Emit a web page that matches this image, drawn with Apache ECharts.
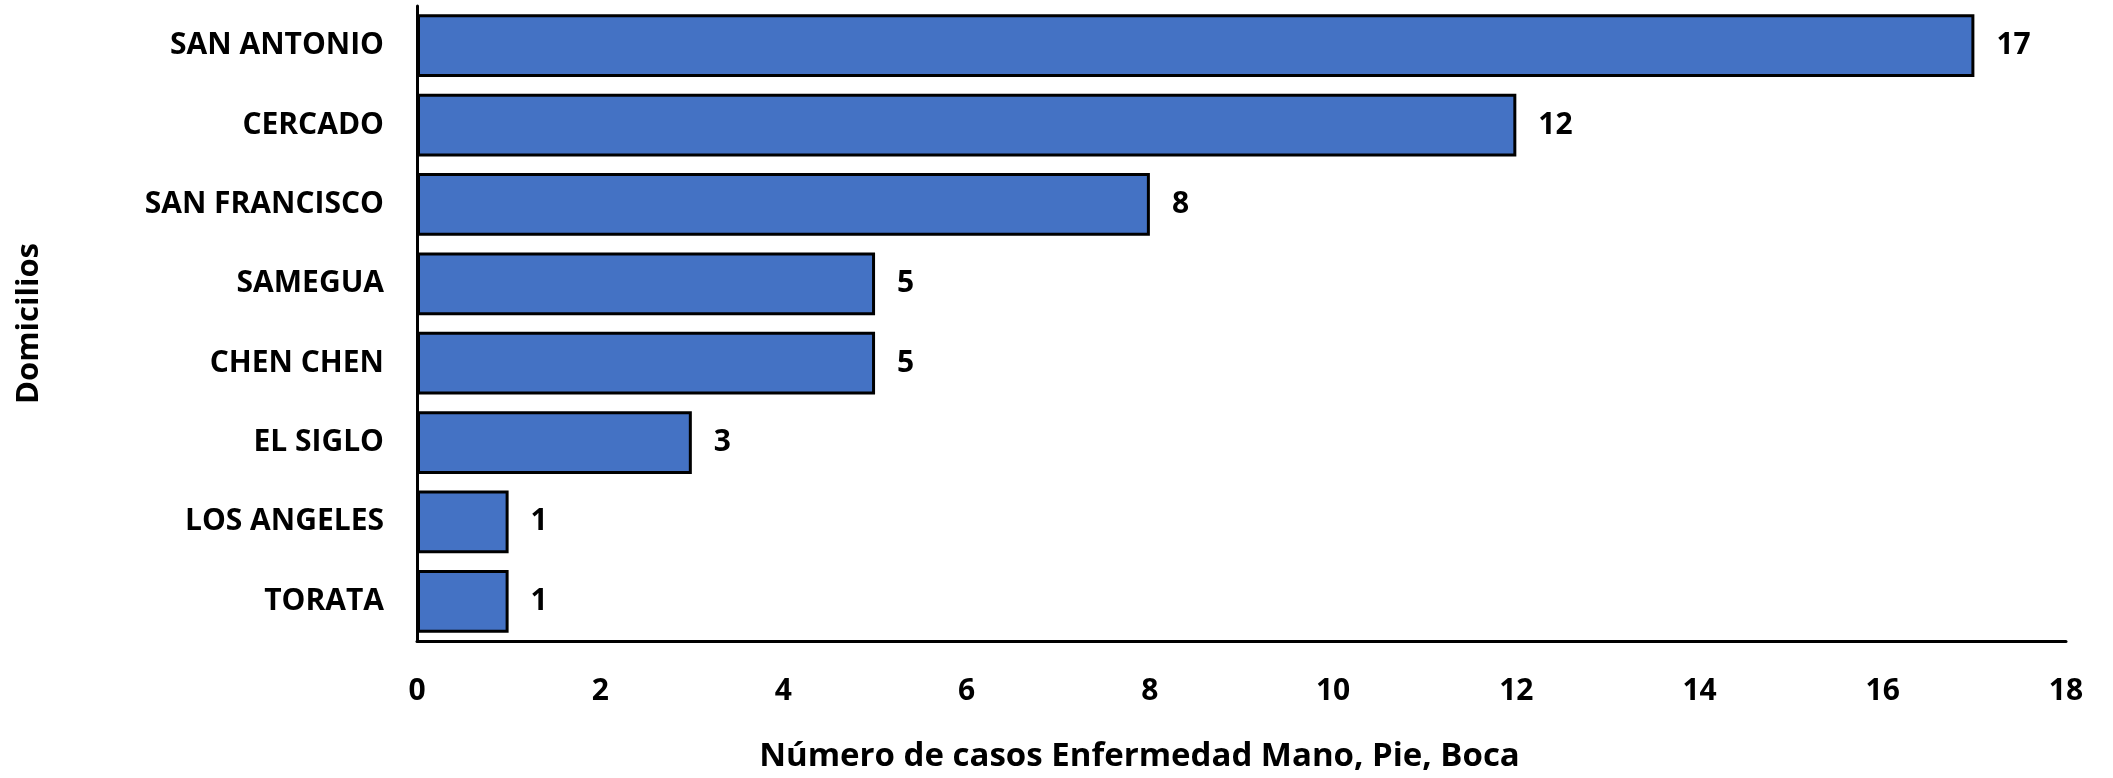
<!DOCTYPE html>
<html>
<head>
<meta charset="utf-8">
<script src="https://cdn.jsdelivr.net/npm/echarts@6/dist/echarts.min.js"></script>
<style>html,body{margin:0;padding:0;background:#fff}#c{width:2113px;height:778px}</style>
</head>
<body>
<div id="c"></div>
<script>
const categories = ['SAN ANTONIO','CERCADO','SAN FRANCISCO','SAMEGUA','CHEN CHEN','EL SIGLO','LOS ANGELES','TORATA'];
const values = [17, 12, 8, 5, 5, 3, 1, 1];
const xTicks = [0, 2, 4, 6, 8, 10, 12, 14, 16, 18];
const xTitle = 'Número de casos Enfermedad Mano, Pie, Boca';
const yTitle = 'Domicilios';

const font = 'Open Sans';
const chart = echarts.init(document.getElementById('c'));
chart.setOption({
  animation: false,
  backgroundColor: '#fff',
  grid: { left: 417, right: 47, top: 6, bottom: 129 },
  xAxis: {
    type: 'value', min: xTicks[0], max: xTicks[xTicks.length - 1], interval: 2,
    splitLine: { show: false },
    axisLine: { show: true, lineStyle: { color: '#000', width: 3 } },
    axisTick: { show: false },
    axisLabel: { color: '#000', fontFamily: font, fontWeight: 'bold', fontSize: 30, margin: 35 },
    name: xTitle, nameLocation: 'middle', nameGap: 99,
    nameTextStyle: { color: '#000', fontFamily: font, fontWeight: 'bold', fontSize: 33, padding: [0, 204, 0, 0] }
  },
  yAxis: {
    type: 'category', data: categories, inverse: true,
    axisLine: { show: true, lineStyle: { color: '#000', width: 3 } },
    axisTick: { show: false },
    axisLabel: { color: '#000', fontFamily: font, fontWeight: 'bold', fontSize: 30, margin: 33 },
    name: yTitle, nameLocation: 'middle', nameGap: 372, nameRotate: 90,
    nameTextStyle: { color: '#000', fontFamily: font, fontWeight: 'bold', fontSize: 31 }
  },
  series: [{
    type: 'bar', data: values, barCategoryGap: '21%',
    itemStyle: { color: '#4472C4', borderColor: '#000', borderWidth: 3 },
    label: { show: true, position: 'right', distance: 22, color: '#000', fontFamily: font, fontWeight: 'bold', fontSize: 30 }
  }]
});
</script>
</body>
</html>
